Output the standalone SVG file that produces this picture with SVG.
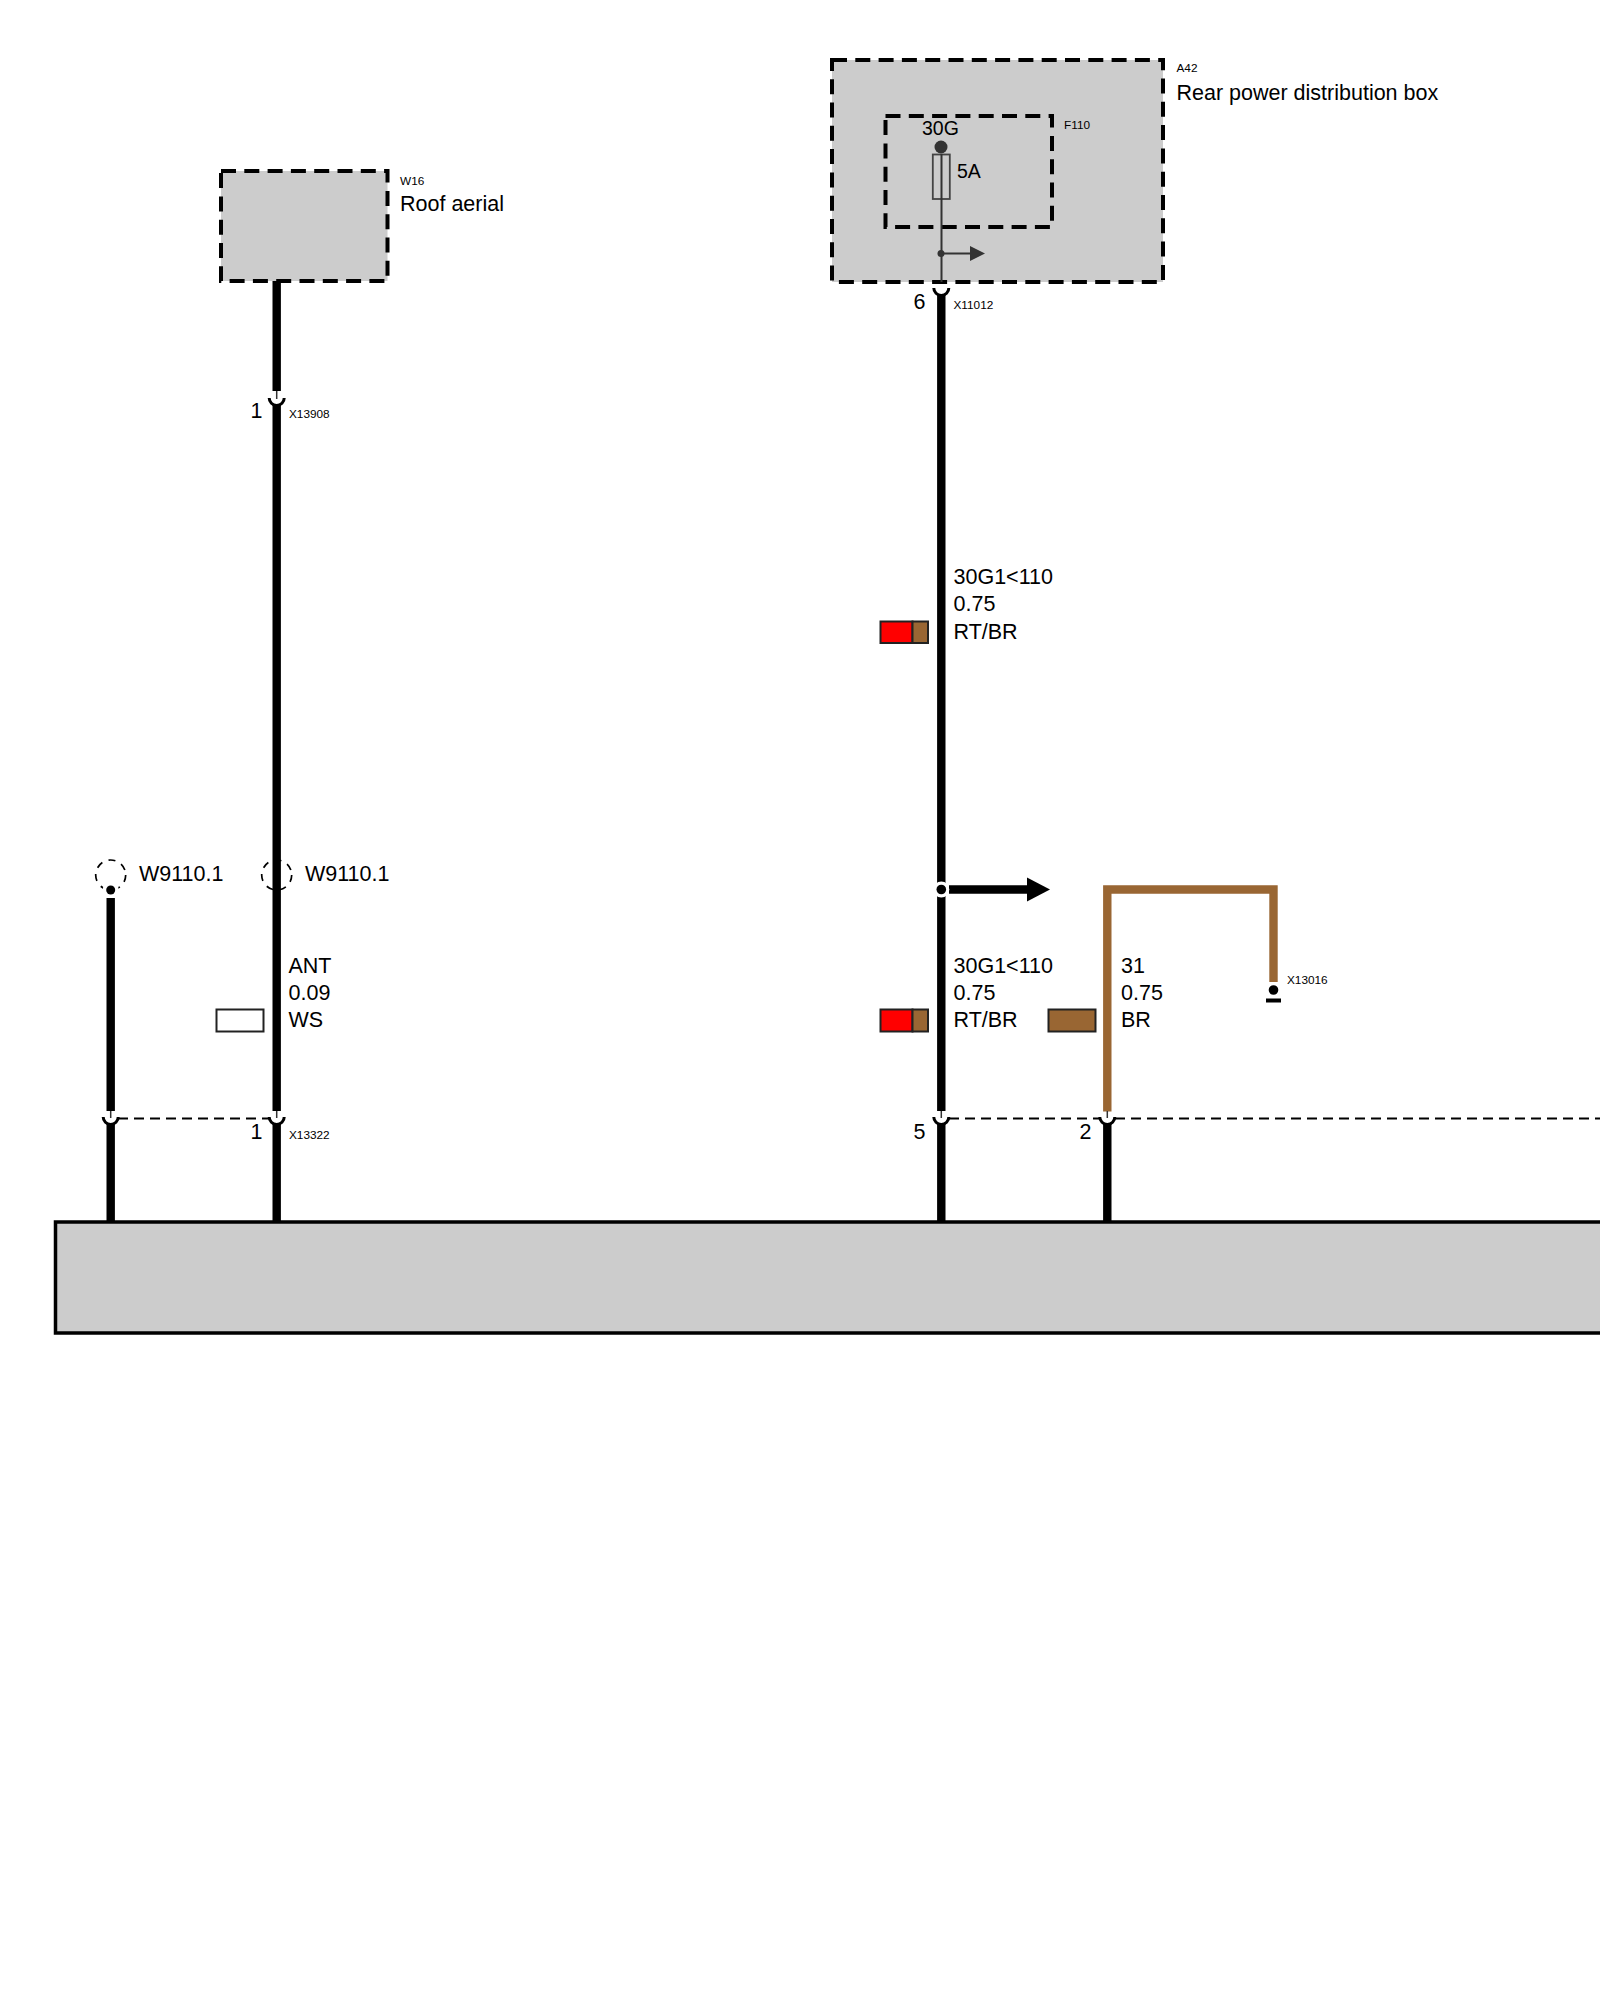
<svg xmlns="http://www.w3.org/2000/svg" width="1600" height="2000" viewBox="0 0 1600 2000">
<style>
text{font-family:"Liberation Sans",Arial,sans-serif;fill:#000}
.t{font-size:21.5px}
.n{font-size:19.5px}
.s{font-size:11.8px}
.box{fill:#ccc;stroke:#000;stroke-width:4;stroke-dasharray:15 8.3}
.in{fill:none;stroke:#000;stroke-width:4;stroke-dasharray:15 8.3}
.w{fill:none;stroke:#000;stroke-width:8.4}
.br{fill:none;stroke:#963;stroke-width:8.4;stroke-linejoin:miter}
.th{fill:none;stroke:#333;stroke-width:2}
.cup{fill:none;stroke:#000;stroke-width:3}
.stub{stroke:#333;stroke-width:1.5}
.dash{fill:none;stroke:#000;stroke-width:2;stroke-dasharray:10 6}
.ring{fill:none;stroke:#000;stroke-width:1.7;stroke-dasharray:7 6.6}
.sw{stroke:#222;stroke-width:2}
</style>
<g id="bus"><rect x="55.500" y="1222" width="1600" height="111" fill="#ccc" stroke="#000" stroke-width="3.500"/></g>
<g id="A42">
<rect class="box" x="832" y="60" width="331" height="222"/>
<text class="s" x="1176.500" y="72">A42</text>
<text class="t" x="1176.500" y="100">Rear power distribution box</text>
</g>
<g id="F110">
<rect class="in" x="885.500" y="116" width="166.500" height="111"/>
<text class="s" x="1064" y="129">F110</text>
<text class="n" x="922" y="135">30G</text>
<text class="n" x="957" y="178">5A</text>
<circle cx="941" cy="147" r="6.500" fill="#333"/>
<rect x="932.800" y="154.500" width="17" height="44.500" fill="none" stroke="#444" stroke-width="1.800"/>
</g>
<g id="W16">
<rect class="box" x="221" y="171" width="166.500" height="110"/>
<text class="s" x="400" y="185">W16</text>
<text class="t" x="400" y="211">Roof aerial</text>
</g>
<g id="connectors">
<path class="th" d="M941.500 154V282"/>
<circle cx="941" cy="253.500" r="3.500" fill="#333"/>
<path class="th" d="M941 253.500H972"/>
<path d="M970 246L985 253.500L970 261Z" fill="#333"/>
<path class="w" d="M276.700 281V391"/>
<path class="w" d="M276.700 405V1111"/>
<path class="w" d="M110.700 898V1111"/>
<path class="w" d="M941.300 295V1111"/>
<path class="w" d="M949 889.500H1030"/>
<path d="M1027 877.500L1050 889.500L1027 901.500Z" fill="#000"/>
<path class="br" d="M1107.300 1111.500V889.500H1273.500V982"/>
<path class="w" d="M110.700 1124V1222"/>
<path class="w" d="M276.700 1124V1222"/>
<path class="w" d="M941.300 1124V1222"/>
<path class="w" d="M1107.300 1124V1222"/>
<path class="dash" d="M118 1118.500H270"/>
<path class="dash" d="M949 1118.500H1100"/>
<path class="dash" d="M1115 1118.500H1600"/>
</g>
<g id="X13908">
<path class="stub" d="M276.700 391V399"/>
<path class="cup" d="M269.200 398A7.500 7.500 0 0 0 284.200 398"/>
<text class="t" x="250.500" y="418">1</text>
<text class="s" x="289" y="418">X13908</text>
</g>
<g id="X11012">
<path class="cup" d="M933.800 288A7.500 7.500 0 0 0 948.800 288"/>
<text class="t" x="913.500" y="309">6</text>
<text class="s" x="953.500" y="309">X11012</text>
</g>
<g id="W9110-left">
<circle class="ring" cx="110.700" cy="875" r="15"/>
<circle cx="110.700" cy="890" r="8" fill="#fff"/>
<circle cx="110.700" cy="890" r="4.500" fill="#000"/>
<text class="t" x="139" y="881">W9110.1</text>
</g>
<g id="W9110-right">
<circle class="ring" cx="276.700" cy="875" r="15"/>
<text class="t" x="305" y="881">W9110.1</text>
</g>
<g id="junction"><circle cx="941.300" cy="889.500" r="8" fill="#fff"/><circle cx="941.300" cy="889.500" r="4.800" fill="#000"/></g>
<g id="X13016">
<circle cx="1273.500" cy="990" r="4.800" fill="#000"/>
<rect x="1266" y="998.500" width="15" height="4" fill="#000"/>
<text class="s" x="1287" y="984">X13016</text>
</g>
<g id="wire-label-top">
<text class="t" x="953.500" y="584">30G1&lt;110</text>
<text class="t" x="953.500" y="611">0.75</text>
<text class="t" x="953.500" y="639">RT/BR</text>
<rect class="sw" x="880.500" y="621.500" width="32" height="21.500" fill="#f00"/>
<rect class="sw" x="912.500" y="621.500" width="15.500" height="21.500" fill="#963"/>
</g>
<g id="wire-label-ant">
<text class="t" x="288.500" y="973">ANT</text>
<text class="t" x="288.500" y="1000">0.09</text>
<text class="t" x="288.500" y="1027">WS</text>
<rect class="sw" x="216.500" y="1009.500" width="47" height="22" fill="#fff"/>
</g>
<g id="wire-label-lower">
<text class="t" x="953.500" y="973">30G1&lt;110</text>
<text class="t" x="953.500" y="1000">0.75</text>
<text class="t" x="953.500" y="1027">RT/BR</text>
<rect class="sw" x="880.500" y="1009.500" width="32" height="22" fill="#f00"/>
<rect class="sw" x="912.500" y="1009.500" width="15.500" height="22" fill="#963"/>
</g>
<g id="wire-label-br">
<text class="t" x="1121" y="973">31</text>
<text class="t" x="1121" y="1000">0.75</text>
<text class="t" x="1121" y="1027">BR</text>
<rect class="sw" x="1048.500" y="1009.500" width="47" height="22" fill="#963"/>
</g>
<g id="X13322">
<path class="stub" d="M110.700 1111V1118"/><path class="cup" d="M103.200 1117A7.500 7.500 0 0 0 118.200 1117"/>
<path class="stub" d="M276.700 1111V1118"/><path class="cup" d="M269.200 1117A7.500 7.500 0 0 0 284.200 1117"/>
<text class="t" x="250.500" y="1139">1</text>
<text class="s" x="289" y="1139">X13322</text>
</g>
<g id="pin-5">
<path class="stub" d="M941.300 1111V1118"/><path class="cup" d="M933.800 1117A7.500 7.500 0 0 0 948.800 1117"/>
<text class="t" x="913.500" y="1139">5</text>
</g>
<g id="pin-2">
<path class="stub" d="M1107.300 1111V1118"/><path class="cup" d="M1099.800 1117A7.500 7.500 0 0 0 1114.800 1117"/>
<text class="t" x="1079.500" y="1139">2</text>
</g>
</svg>
